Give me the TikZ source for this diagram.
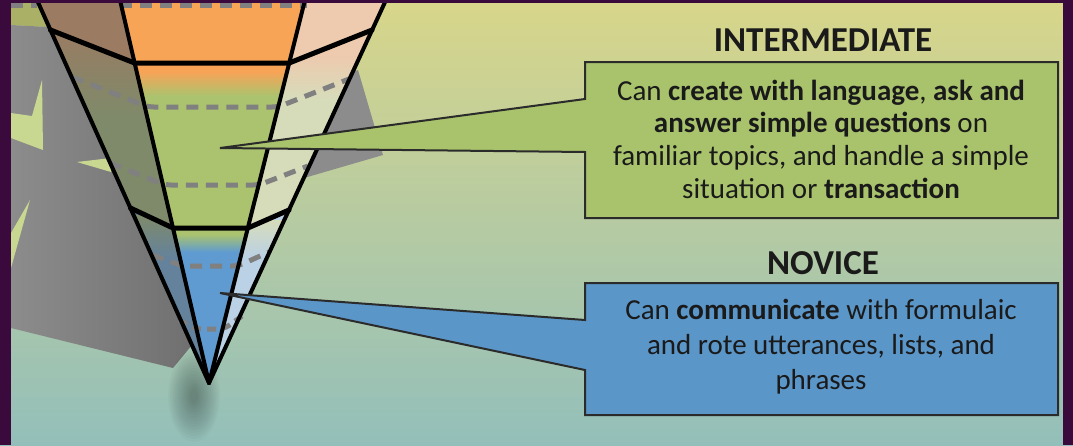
\documentclass[tikz,border=0pt]{standalone}
\usepackage{fontspec}
\setmainfont{Carlito}
\begin{document}
\begin{tikzpicture}[x=1pt,y=-1pt,
  edge/.style={draw=black,line width=4pt,line join=round,line cap=round},
  band/.style={draw=black,line width=5pt,line join=round,line cap=round},
  dashline/.style={draw=dashgray,line width=5pt,dash pattern=on 12pt off 8pt,rounded corners=6pt},
  callout/.style={draw=boxline,line width=2pt,line join=miter},
  title/.style={font=\fontsize{35}{40}\selectfont\bfseries,text=txt,inner sep=0pt},
  body/.style={align=center,text=txt,inner sep=0pt}]
\definecolor{purp}{HTML}{3A0A3C}
\definecolor{bgtop}{HTML}{D8D68A}
\definecolor{bgmid}{HTML}{C2D6A3}
\definecolor{bgbot}{HTML}{93BFBA}
\definecolor{dashgray}{HTML}{808080}
\definecolor{boxline}{HTML}{2B2B2B}
\definecolor{txt}{HTML}{1A1A1A}
\definecolor{ltbrown}{HTML}{9B7B62}
\definecolor{ltolive}{HTML}{7F8A6A}
\definecolor{ltblue}{HTML}{64829C}
\definecolor{corange}{HTML}{F7A457}
\definecolor{cgreen}{HTML}{ABC36E}
\definecolor{cblue}{HTML}{5F9BD0}
\definecolor{rpeach}{HTML}{EECAAE}
\definecolor{rpale}{HTML}{D6DCBA}
\definecolor{rblue}{HTML}{BAD1E6}
\definecolor{igreen}{HTML}{A9C36C}
\definecolor{nblue}{HTML}{5B96C9}
\definecolor{shgray}{HTML}{8C8C8C}
\definecolor{shdark}{HTML}{707070}
\definecolor{spike}{HTML}{C9D890}
\definecolor{olive}{HTML}{AAB065}
\useasboundingbox (0,0) rectangle (1073,445);
% background
\shade[top color=bgtop,middle color=bgmid,bottom color=bgbot] (0,0) rectangle (1073,445);
% background shadow shapes
\fill[olive] (11,3) -- (37,3) -- (48,27) -- (11,25) -- cycle;
\shade[left color=shgray,right color=shdark] (11,25) -- (48,27) -- (192,345) -- (173,368) -- (11,328) -- cycle;
\fill[spike] (11,113) -- (32,116) -- (42,80) -- (43,150) -- (11,138) -- cycle;
\fill[spike] (77,162) -- (111,158) -- (111,172) -- cycle;
\fill[spike] (11,233) -- (30,200) -- (11,268) -- cycle;
\fill[shgray] (353,72) -- (358,70) -- (383,155) -- (304,178) -- cycle;
% soft shadow under tip
\foreach \i in {1,...,14}{\fill[black,opacity=0.022] (194,396) ellipse ({2+1.7*\i} and {4+3*\i});}
% cone facets: top piece
\fill[ltbrown] (37,0) -- (120,0) -- (134.6,63) -- (50.5,30) -- cycle;
\fill[corange] (120,0) -- (305,0) -- (289.2,63) -- (134.6,63) -- cycle;
\fill[rpeach] (305,0) -- (386,0) -- (372.1,30) -- (289.2,63) -- cycle;
% middle piece
\begin{scope}
\clip (50.5,30) -- (134.6,63) -- (173,228) -- (130.4,208) -- cycle;
\fill[ltolive] (0,0) rectangle (400,240);
\shade[top color=ltbrown,bottom color=ltolive] (0,25) rectangle (400,115);
\end{scope}
\begin{scope}
\clip (134.6,63) -- (289.2,63) -- (247.9,228) -- (173,228) -- cycle;
\fill[cgreen] (0,0) rectangle (400,240);
\shade[top color=corange,bottom color=cgreen] (0,72) rectangle (400,96);
\fill[corange] (0,60) rectangle (400,72);
\end{scope}
\begin{scope}
\clip (289.2,63) -- (372.1,30) -- (289,210) -- (247.9,228) -- cycle;
\fill[rpale] (0,0) rectangle (400,240);
\shade[top color=rpeach,bottom color=rpale] (0,55) rectangle (400,100);
\fill[rpeach] (0,25) rectangle (400,55);
\end{scope}
% bottom piece
\begin{scope}
\clip (130.4,208) -- (173,228) -- (209,383) -- cycle;
\fill[ltblue] (0,200) rectangle (400,400);
\shade[top color=ltolive,bottom color=ltblue] (0,215) rectangle (400,258);
\end{scope}
\begin{scope}
\clip (173,228) -- (247.9,228) -- (209,383) -- cycle;
\fill[cblue] (0,200) rectangle (400,400);
\shade[top color=cgreen,bottom color=cblue] (0,234) rectangle (400,252);
\fill[cgreen] (0,225) rectangle (400,234);
\end{scope}
\begin{scope}
\clip (247.9,228) -- (289,210) -- (209,383) -- cycle;
\fill[rblue] (0,200) rectangle (400,400);
\shade[top color=rpale,bottom color=rblue] (0,220) rectangle (400,258);
\end{scope}
% dashed rings
\draw[dashline] (11,5) -- (37,5);
\draw[dashline] (120,5) -- (307,5);
\draw[dashline] (72,77) -- (148,107) -- (278,107) -- (349,79);
\draw[dashline] (110,163) -- (165,185) -- (259,185) -- (308,166);
\draw[dashline] (152,255) -- (183,266) -- (238,266) -- (269,252);
\draw[dashline,dash pattern=on 9pt off 6pt] (179,320) -- (196,329) -- (224,329) -- (242,316);
% cone lines
\coordinate (tip) at (209,383);
\coordinate (olt) at (37,0);
\coordinate (ilt) at (120,0);
\coordinate (irt) at (305,0);
\coordinate (ort) at (386,0);
\draw[edge] (olt) -- (tip);
\draw[edge] (ilt) -- (tip);
\draw[edge] (irt) -- (tip);
\draw[edge] (ort) -- (tip);
\draw[band] (50.5,30) -- (134.6,63) -- (289.2,63) -- (372.1,30);
\draw[band] (130.4,208) -- (173,228) -- (247.9,228) -- (289,210);
% callouts
\coordinate (ptI) at (220,148);
\coordinate (ptN) at (220,293);
\filldraw[callout,fill=igreen] (585,62) -- (1058,62) -- (1058,218) -- (585,218) -- (585,152) -- (ptI) -- (585,99) -- cycle;
\filldraw[callout,fill=nblue] (585,283) -- (1058,283) -- (1058,415) -- (585,415) -- (585,370) -- (ptN) -- (585,320) -- cycle;
% texts
\node[title] (tI) at (823,40) {INTERMEDIATE};
\node[title] (tN) at (823,263) {NOVICE};
\node[body,font=\fontsize{29}{32.7}\selectfont] (bI) at (821,139) {Can \textbf{create with language}, \textbf{ask and}\\ \textbf{answer simple questions} on\\ familiar topics, and handle a simple\\ situation or \textbf{transaction}};
\node[body,font=\fontsize{29}{35}\selectfont] (bN) at (821,347) {Can \textbf{communicate} with formulaic\\ and rote utterances, lists, and\\ phrases};
% purple frame
\fill[purp] (0,0) rectangle (11,445);
\fill[purp] (0,0) rectangle (1073,3);
\fill[purp] (1063,0) rectangle (1073,445);
\end{tikzpicture}
\end{document}
